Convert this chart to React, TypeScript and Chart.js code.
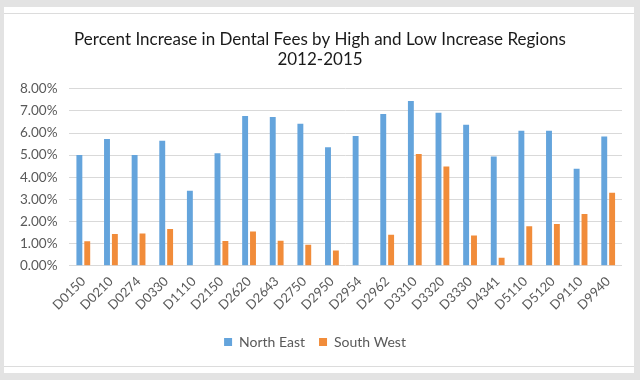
import React, { useEffect, useRef } from "react";
import { Chart, registerables } from "chart.js";

Chart.register(...registerables);

const categories = ["D0150","D0210","D0274","D0330","D1110","D2150","D2620","D2643","D2750","D2950","D2954","D2962","D3310","D3320","D3330","D4341","D5110","D5120","D9110","D9940"];
const northEast = [5.0, 5.73, 5.0, 5.65, 3.39, 5.08, 6.77, 6.73, 6.42, 5.36, 5.87, 6.86, 7.45, 6.92, 6.37, 4.94, 6.1, 6.1, 4.38, 5.84];
const southWest = [1.1, 1.43, 1.46, 1.66, 0, 1.12, 1.55, 1.13, 0.94, 0.68, 0, 1.4, 5.05, 4.48, 1.36, 0.36, 1.78, 1.88, 2.34, 3.3];
const titleLines = ["Percent Increase in Dental Fees by High and Low Increase Regions", "2012-2015"];
const seriesNames = ["North East", "South West"];

const FONT = "Lato, 'Open Sans', sans-serif";

const shiftTitle = {
  id: "shiftTitle",
  afterLayout(chart: any) {
    const tb = chart.titleBlock;
    if (tb) { tb.left += 5; tb.right += 5; }
  },
};

export default function App() {
  const ref = useRef<HTMLCanvasElement | null>(null);
  useEffect(() => {
    if (!ref.current) return;
    const chart = new Chart(ref.current, {
      type: "bar",
      data: {
        labels: categories,
        datasets: [
          { label: seriesNames[0], data: northEast, backgroundColor: "#64A4DC", categoryPercentage: 0.57, barPercentage: 0.75 },
          { label: seriesNames[1], data: southWest, backgroundColor: "#F18C3A", categoryPercentage: 0.57, barPercentage: 0.75 },
        ],
      },
      plugins: [shiftTitle],
      options: {
        animation: false,
        responsive: false,
        maintainAspectRatio: false,
        layout: { padding: { left: 8, right: 18, top: 20, bottom: 21 } },
        plugins: {
          title: {
            display: true,
            text: titleLines,
            color: "#1a1a1a",
            font: { family: FONT, size: 17, weight: "normal", lineHeight: 1.2 },
            padding: { top: 9, bottom: 19 },
          },
          legend: {
            position: "bottom",
            labels: {
              color: "#595959",
              font: { family: FONT, size: 14 },
              boxWidth: 8,
              boxHeight: 8,
              padding: 14,
            },
          },
          tooltip: { enabled: false },
        },
        scales: {
          x: {
            grid: { display: false, drawTicks: false },
            border: { display: false },
            ticks: { color: "#595959", font: { family: FONT, size: 13 }, maxRotation: 45, minRotation: 45, padding: 8, autoSkip: false },
            afterFit: (s: any) => { s.paddingLeft = 0; s.paddingRight = 0; },
          },
          y: {
            min: 0,
            max: 8,
            grid: { color: "#d9d9d9", drawTicks: false },
            border: { display: false },
            ticks: {
              stepSize: 1,
              color: "#595959",
              font: { family: FONT, size: 13.5 },
              padding: 12,
              callback: (v: any) => Number(v).toFixed(2) + "%",
            },
          },
        },
      },
    });
    return () => chart.destroy();
  }, []);

  return (
    <div style={{ position: "absolute", left: 0, top: 0, width: 640, height: 380, background: "#e3e3e3", overflow: "hidden" }}>
      <div style={{ position: "absolute", left: 4, top: 7, width: 630, height: 366, background: "#ffffff" }} />
      <div style={{ position: "absolute", left: 4, top: 13, width: 630, height: 1, background: "#dcdcdc" }} />
      <div style={{ position: "absolute", left: 4, top: 366, width: 630, height: 1, background: "#dcdcdc" }} />
      <canvas ref={ref} width={640} height={380} style={{ position: "absolute", left: 0, top: 0, width: 640, height: 380 }} />
    </div>
  );
}
